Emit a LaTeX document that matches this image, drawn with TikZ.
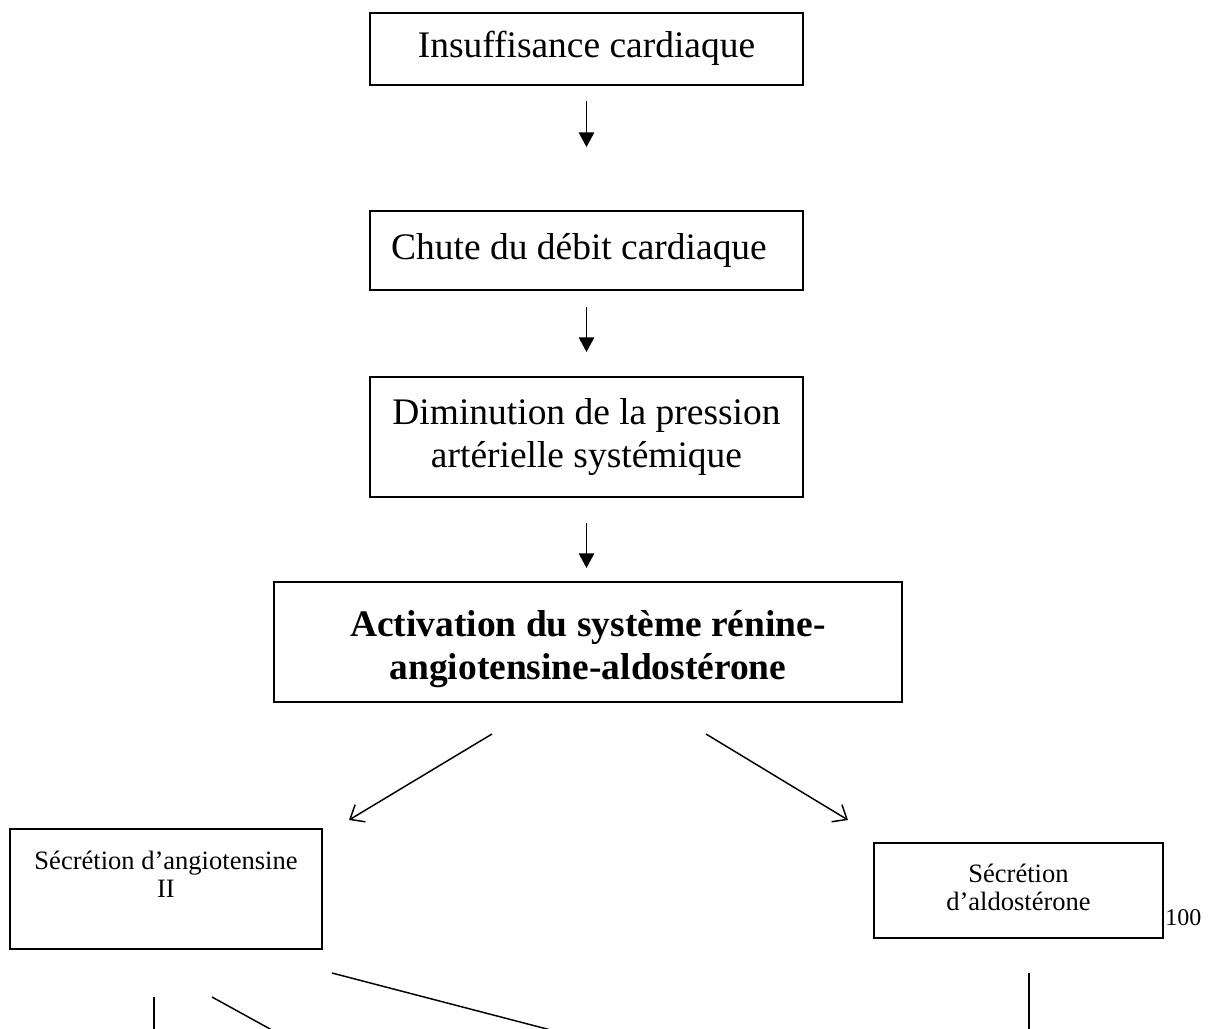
\documentclass[tikz,border=0pt]{standalone}
\usepackage{fontspec}
\setmainfont{Liberation Serif}
\usetikzlibrary{arrows.meta}
\begin{document}
\begin{tikzpicture}[x=0.75pt,y=-0.75pt,
  box/.style={draw, line width=1.4pt, rectangle, inner sep=0pt, align=center},
  big/.style={font={\fontsize{28.1pt}{32.3pt}\selectfont}},
  bigb/.style={font={\fontsize{28.1pt}{32.3pt}\selectfont\bfseries}},
  small/.style={font={\fontsize{19.9pt}{21pt}\selectfont}},
  conn/.style={line width=1.1pt},
  farrow/.style={conn, -{Triangle[length=11pt,width=11.5pt]}},
  oarrow/.style={conn, -{Straight Barb[length=9pt,width=15pt,line width=1.1pt]}}]
\fill[white] (0,0) rectangle (1215,1029);
\useasboundingbox (0,0) rectangle (1215,1029);

\node[box,big,minimum width=324.75pt,minimum height=54pt] (b1) at (586.5,49) {\strut Insuffisance cardiaque};
\node[box,big,minimum width=324.75pt,minimum height=59.25pt] (b2) at (586.5,250.5) {\strut Chute du débit cardiaque\hspace*{11.25pt}};
\node[box,big,minimum width=324.75pt,minimum height=90pt] (b3) at (586.5,437) {\strut Diminution de la pression\\\strut artérielle systémique};
\node[box,bigb,minimum width=471pt,minimum height=90pt] (b4) at (588,642) {\rule{0pt}{33.1pt}Activation du système rénine-\\\strut angiotensine-aldostérone};

\node[box,small,minimum width=234pt,minimum height=90pt] (sa) at (166,889) {\rule{0pt}{19.2pt}Sécrétion d’angiotensine\\\strut II\\\strut};
\node[box,small,minimum width=216.75pt,minimum height=71.25pt] (sd) at (1018.5,890.5) {\strut Sécrétion\\\strut d’aldostérone};
\node[font={\fontsize{18pt}{20pt}\selectfont},anchor=base west,inner sep=0pt] (pg) at (1165,925) {100};

\draw[farrow,shorten <=11.25pt,shorten >=47.25pt] (b1.south) -- (b2.north);
\draw[farrow,shorten <=12pt,shorten >=18pt] (b2.south) -- (b3.north);
\draw[farrow,shorten <=18.75pt,shorten >=9.75pt] (b3.south) -- (b3.south |- b4.north);

\coordinate (l0) at (492,734);
\coordinate (l1) at (349,820);
\coordinate (r0) at (706,734);
\coordinate (r1) at (848,820);
\draw[oarrow] (l0) -- (l1);
\draw[oarrow] (r0) -- (r1);

\coordinate (v1a) at (154,997);
\coordinate (v1b) at (154,1035);
\coordinate (d1a) at (212,997);
\coordinate (d1b) at (281,1035);
\coordinate (d2a) at (332,973);
\coordinate (d2b) at (570,1035);
\coordinate (v2a) at (1029,973);
\coordinate (v2b) at (1029,1035);
\draw[conn] (v1a) -- (v1b);
\draw[conn] (d1a) -- (d1b);
\draw[conn] (d2a) -- (d2b);
\draw[conn] (v2a) -- (v2b);
\end{tikzpicture}
\end{document}
